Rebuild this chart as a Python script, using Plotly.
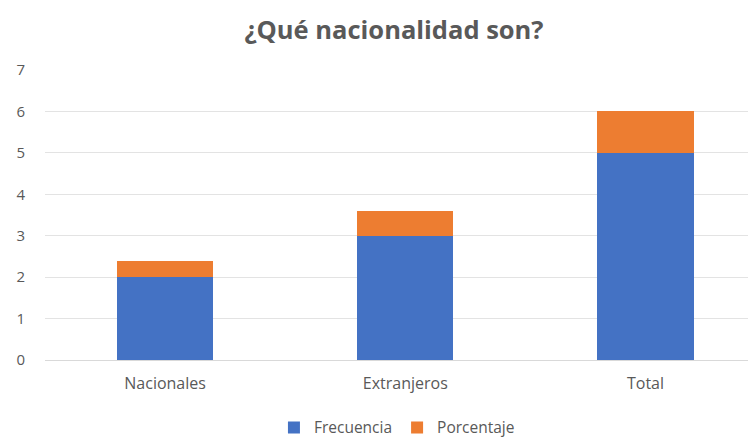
import plotly.graph_objects as go

categories = ["Nacionales", "Extranjeros", "Total"]
frecuencia = [2, 3, 5]
porcentaje = [0.4, 0.6, 1.0]
y_ticks = [0, 1, 2, 3, 4, 5, 6, 7]

fig = go.Figure()
fig.add_trace(go.Bar(x=categories, y=frecuencia, name="Frecuencia",
                     marker=dict(color="#4472C4", line=dict(width=0)), width=0.4))
fig.add_trace(go.Bar(x=categories, y=porcentaje, name="Porcentaje",
                     marker=dict(color="#ED7D31", line=dict(width=0)), width=0.4))

fig.update_layout(
    barmode="stack",
    width=748, height=429,
    margin=dict(l=37, r=0, t=62, b=77, autoexpand=False),
    paper_bgcolor="white", plot_bgcolor="white",
    font=dict(family="Open Sans", color="#595959", size=15),
    title=dict(text="<b>¿Qué nacionalidad son?</b>", x=0.516, xanchor="center",
               y=0.949, yref="container", yanchor="middle",
               font=dict(size=25.5, color="#595959", family="Open Sans")),
    legend=dict(orientation="h", x=0.495, xanchor="center", y=-0.234, yanchor="middle",
                font=dict(size=15.5, color="#595959"), traceorder="normal",
                itemwidth=30, tracegroupgap=0),
    xaxis=dict(range=[-0.5, 2.46], showgrid=False, showline=False, ticks="",
               tickfont=dict(size=16, color="#595959"), ticklabelstandoff=12, automargin=False),
    yaxis=dict(range=[0, 7], tickvals=y_ticks, showgrid=True, gridcolor="#E3E3E3",
               zeroline=True, zerolinecolor="#D9D9D9", zerolinewidth=1,
               tickfont=dict(size=15, color="#595959"), ticklabelstandoff=19, automargin=False),
)
fig.write_html("out.html")
